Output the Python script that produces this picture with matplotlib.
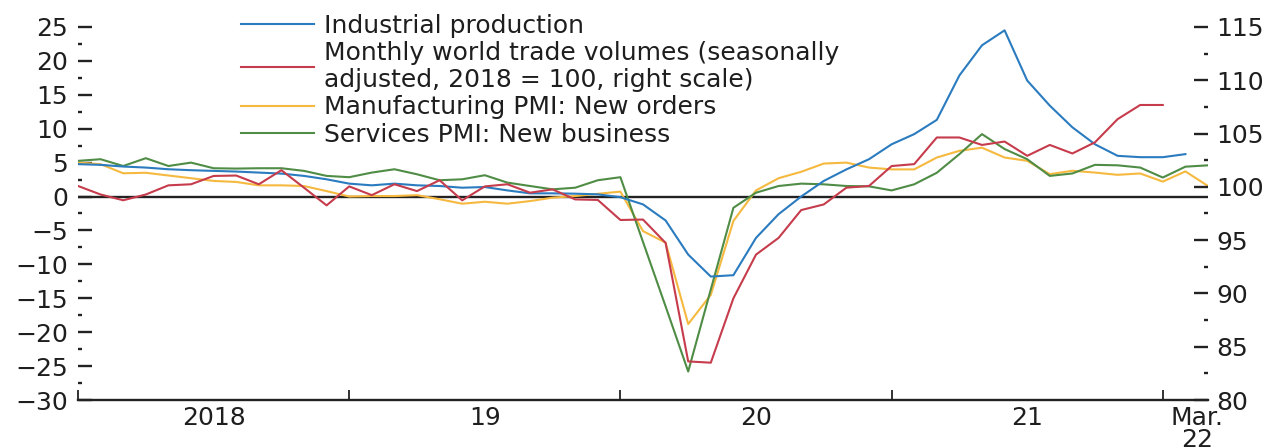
import matplotlib
matplotlib.use("Agg")
import matplotlib.pyplot as plt
from matplotlib.ticker import FixedLocator, NullFormatter

# monthly data, Jan 2018 .. Mar 2022 (index 0 = Jan 2018)
ind_prod = [4.77, 4.67, 4.42, 4.27, 4.02, 3.88, 3.78, 3.68, 3.53, 3.38, 3.04, 2.54,
            1.9, 1.65, 1.9, 1.65, 1.55, 1.3, 1.4, 0.9, 0.47, 0.47, 0.42, 0.32,
            -0.1, -1.16, -3.53, -8.56, -11.8, -11.6, -6.1, -2.6, 0.0, 2.3, 4.0, 5.5,
            7.7, 9.2, 11.3, 17.85, 22.3, 24.5, 17.1, 13.4, 10.2, 7.7, 6.0, 5.8,
            5.8, 6.25]

# right scale, 2018 = 100
trade_vol = [100.08, 99.28, 98.74, 99.28, 100.14, 100.24, 101.02, 101.06, 100.24, 101.56, 99.92, 98.26,
             100.04, 99.22, 100.24, 99.60, 100.62, 98.73, 100.04, 100.24, 99.45, 99.76, 98.82, 98.77,
             96.89, 96.93, 94.74, 83.62, 83.50, 89.54, 93.64, 95.21, 97.82, 98.35, 99.92, 100.08,
             101.95, 102.13, 104.63, 104.63, 103.93, 104.25, 102.91, 103.93, 103.13, 104.18, 106.35, 107.68,
             107.68]

mfg_pmi = [5.0, 4.77, 3.43, 3.5, 3.1, 2.7, 2.3, 2.15, 1.65, 1.65, 1.55, 0.8,
           0.0, 0.07, 0.07, 0.2, -0.4, -1.06, -0.77, -1.06, -0.67, -0.17, 0.07, 0.4,
           0.72, -5.1, -6.8, -18.8, -14.5, -3.6, 0.9, 2.7, 3.65, 4.86, 5.0, 4.27,
           4.0, 4.0, 5.75, 6.74, 7.2, 5.75, 5.26, 3.3, 3.8, 3.53, 3.2, 3.4,
           2.2, 3.7, 1.55]

svc_pmi = [5.26, 5.5, 4.5, 5.65, 4.5, 5.0, 4.17, 4.12, 4.17, 4.17, 3.78, 3.04,
           2.85, 3.53, 4.02, 3.28, 2.4, 2.54, 3.14, 2.05, 1.55, 1.06, 1.3, 2.4,
           2.85, -6.7, -16.2, -25.8, -13.7, -1.66, 0.56, 1.55, 1.9, 1.8, 1.55, 1.5,
           0.9, 1.8, 3.5, 6.25, 9.2, 7.0, 5.5, 3.04, 3.4, 4.67, 4.6, 4.27,
           2.8, 4.4, 4.6]

year_ticks = [0, 12, 24, 36, 48]
year_labels = ["2018", "19", "20", "21", "Mar.\n22"]
year_label_pos = [6, 18, 30, 42, 49.5]

labels = ["Industrial production",
          "Monthly world trade volumes (seasonally\nadjusted, 2018 = 100, right scale)",
          "Manufacturing PMI: New orders",
          "Services PMI: New business"]

blue = "#2a7bbf"
red = "#c63c4c"
yellow = "#f6b940"
green = "#4f8c45"
txt = "#1e1e1e"
dark = "#222222"

plt.rcParams['font.family'] = ['DejaVu Sans']
fs = 18

fig = plt.figure(figsize=(12.78, 4.48), dpi=100)
ax = fig.add_axes([78/1278, 48/448, 1130/1278, (448-48-10)/448])
ax2 = ax.twinx()

lo, hi = -30, 27.5
ax.set_ylim(lo, hi)
ax2.set_ylim(80, 80 + (hi - lo) * 35 / 55)
ax.set_xlim(0, 50)

ax.axhline(0, color=dark, lw=1.7, zorder=1)
l1, = ax.plot(range(len(ind_prod)), ind_prod, color=blue, lw=1.5, zorder=3)
l3, = ax.plot(range(len(mfg_pmi)), mfg_pmi, color=yellow, lw=1.5, zorder=2)
l4, = ax.plot(range(len(svc_pmi)), svc_pmi, color=green, lw=1.5, zorder=2)
l2, = ax2.plot(range(len(trade_vol)), trade_vol, color=red, lw=1.5)

for a in (ax, ax2):
    for s in ("top", "left", "right"):
        a.spines[s].set_visible(False)
ax2.spines["bottom"].set_visible(False)
ax.spines["bottom"].set_linewidth(1.7)
ax.spines["bottom"].set_color(dark)

# left axis
ax.yaxis.set_major_locator(FixedLocator(range(-30, 26, 5)))
ax.yaxis.set_minor_locator(FixedLocator([v + 2.5 for v in range(-30, 21, 5)]))
ax.tick_params(axis="y", which="major", direction="in", length=10, width=1.7,
               pad=7, labelsize=fs, labelcolor=txt, color=dark)
ax.tick_params(axis="y", which="minor", direction="in", length=3, width=1.7, color=dark)

# right axis
ax2.yaxis.set_major_locator(FixedLocator(range(80, 116, 5)))
ax2.yaxis.set_minor_locator(FixedLocator([v + 2.5 for v in range(80, 111, 5)]))
ax2.tick_params(axis="y", which="major", direction="in", length=10, width=1.7,
                pad=6, labelsize=fs, labelcolor=txt, color=dark)
ax2.tick_params(axis="y", which="minor", direction="in", length=3, width=1.7, color=dark)

# x axis: ticks at year boundaries, labels in the middle of each year
ax.xaxis.set_major_locator(FixedLocator(year_ticks))
ax.xaxis.set_major_formatter(NullFormatter())
ax.xaxis.set_minor_locator(FixedLocator(year_label_pos))
ax.set_xticklabels(year_labels, minor=True)
ax.tick_params(axis="x", which="major", direction="in", length=7, width=1.3, color=dark)
ax.tick_params(axis="x", which="minor", length=0, pad=4, labelsize=fs, labelcolor=txt)
for t in ax.xaxis.get_minorticklabels():
    t.set_linespacing(0.9)

leg = ax2.legend([l1, l2, l3, l4], labels, loc="upper left",
                 bbox_to_anchor=(241/1278, 1 - 14/448), bbox_transform=fig.transFigure,
                 frameon=False, fontsize=fs, handlelength=2.9, handletextpad=0.4,
                 borderpad=0, borderaxespad=0, labelspacing=0.13)
for t in leg.get_texts():
    t.set_color(txt)
    t.set_linespacing(1.15)
for h in leg.get_lines():
    h.set_linewidth(1.5)

fig.savefig("out.png", dpi=100)
